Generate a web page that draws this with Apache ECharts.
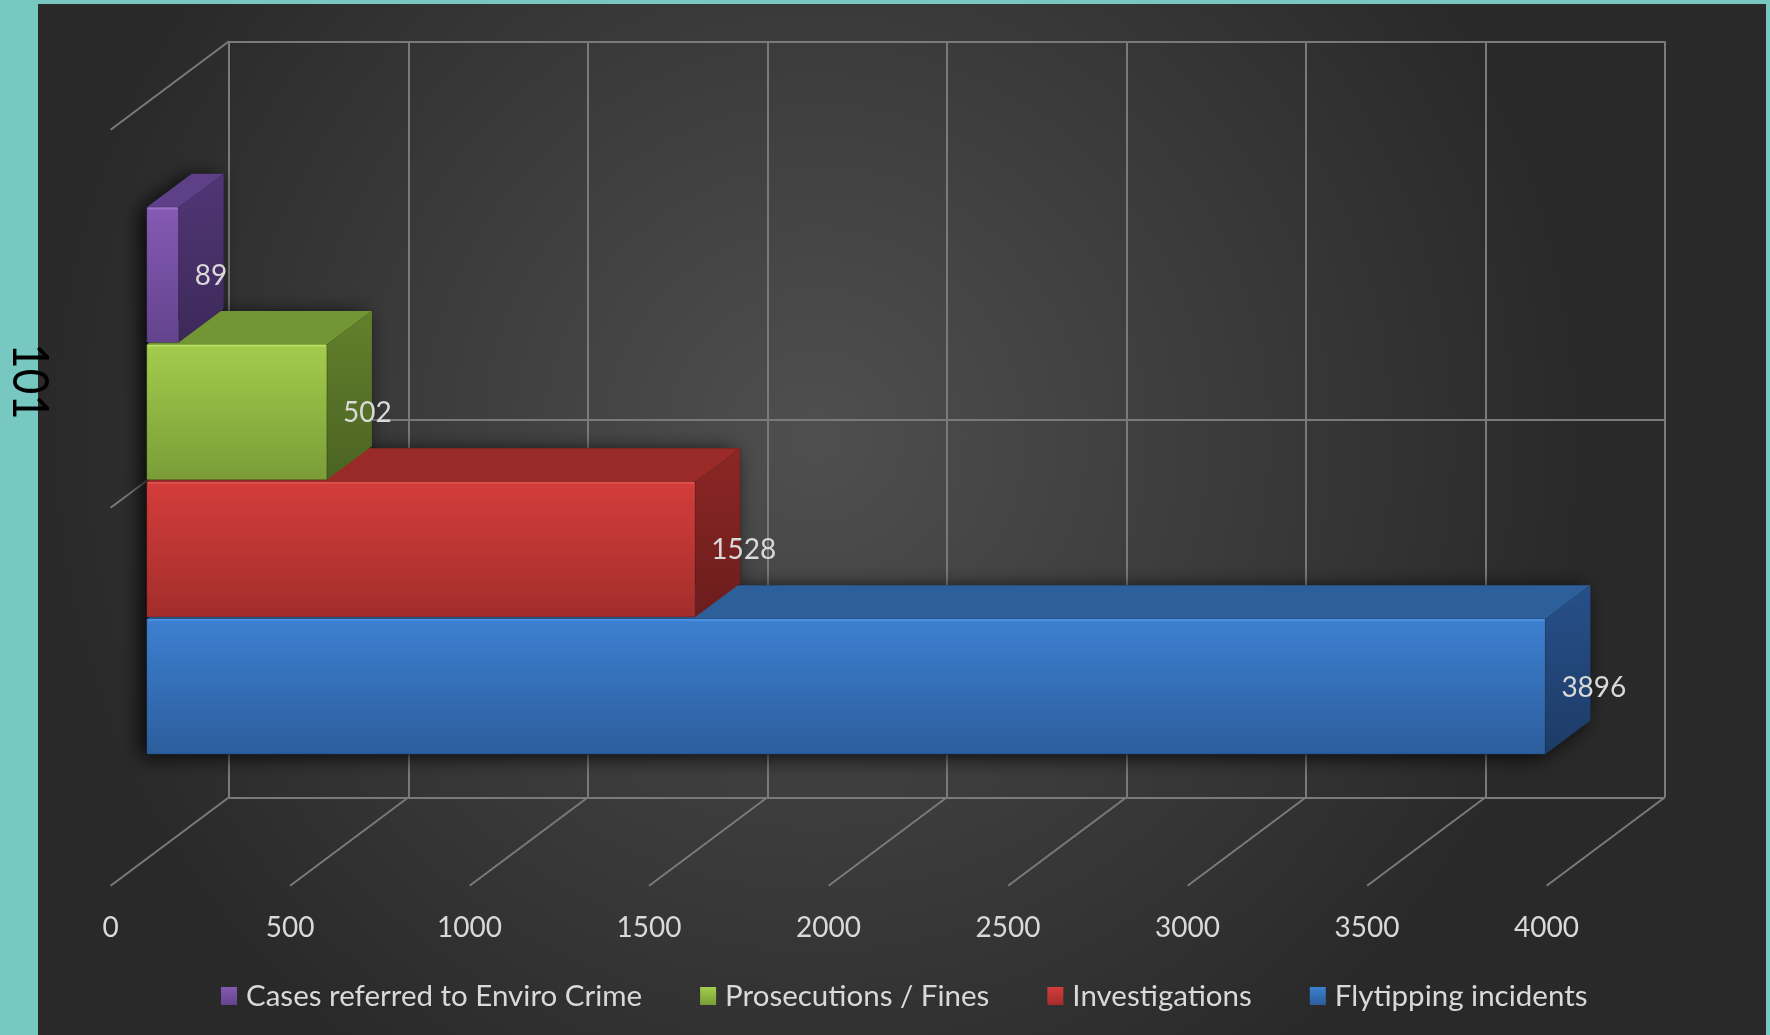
<!DOCTYPE html>
<html>
<head>
<meta charset="utf-8">
<script src="https://cdn.jsdelivr.net/npm/echarts@6/dist/echarts.min.js"></script>
<style>
html,body{margin:0;padding:0;background:#76c8c0;}
#c{width:1770px;height:1035px;}
</style>
</head>
<body>
<div id="c"></div>
<script>
// ---------------- data ----------------
const categories = ['101'];
const seriesNames = ['Cases referred to Enviro Crime', 'Prosecutions / Fines', 'Investigations', 'Flytipping incidents'];
const seriesValues = [89, 502, 1528, 3896];
const xTickLabels = [0, 500, 1000, 1500, 2000, 2500, 3000, 3500, 4000];
const wallLevels = [0, 1, 2];

// ---------------- styling ----------------
const FONT = 'Lato';
const TEXT = '#d9d9d9';
const GRID_LINE = '#7a7a7a';
const palette = [
  { front: ['#855ab3', '#63438d'], top: '#5e4088', side: ['#513676', '#3c2959'], edge: '#9a72c8' },
  { front: ['#a3cd4d', '#7a9c37'], top: '#739634', side: ['#62812c', '#4b6322'], edge: '#b8df60' },
  { front: ['#d43d3b', '#a22d2b'], top: '#9a2a28', side: ['#8c2725', '#6b1d1c'], edge: '#e0504c' },
  { front: ['#3d80d1', '#2c5d9c'], top: '#2d5f9b', side: ['#27508a', '#1d3b66'], edge: '#4b8fe0' }
];

// planes of the pseudo-3D box
const FRONT = { left: 110.6, top: 129.8, width: 1436, height: 756 };
const BACK = { left: 229, top: 41.3, width: 1436, height: 756 };
const DEPTH = [BACK.left - FRONT.left, BACK.top - FRONT.top];
const BAR_POS = 0.305, BAR_DEPTH = 0.38;
const BARS = {
  left: FRONT.left + DEPTH[0] * BAR_POS,
  top: FRONT.top + DEPTH[1] * BAR_POS,
  width: FRONT.width, height: FRONT.height
};
const BAR_FRAC = 0.1789, GAP_FRAC = 0.0026;

const xMin = xTickLabels[0];
const xMax = xTickLabels[xTickLabels.length - 1];
const xStep = xTickLabels[1] - xTickLabels[0];

function grad(c0, c1) {
  return new echarts.graphic.LinearGradient(0, 0, 0, 1, [
    { offset: 0, color: c0 }, { offset: 1, color: c1 }
  ]);
}

function barGeom(api, slot) {
  const v = api.value(0);
  const c = api.value(1);
  const p0 = api.coord([0, c]);
  const p1 = api.coord([v, c]);
  const H = api.size([0, 1])[1];
  const bh = H * BAR_FRAC, gap = H * GAP_FRAC;
  const total = 4 * bh + 3 * gap;
  const y0 = p0[1] - total / 2 + slot * (bh + gap);
  const y1 = y0 + bh;
  const dx = DEPTH[0] * BAR_DEPTH, dy = DEPTH[1] * BAR_DEPTH;
  return { x0: p0[0], x1: p1[0], y0, y1, dx, dy, v };
}

function makeBarRenderer(slot) {
  const col = palette[slot];
  return function (params, api) {
    const g = barGeom(api, slot);
    const { x0, x1, y0, y1, dx, dy } = g;
    return {
      type: 'group',
      children: [
        { type: 'polygon', shape: { points: [[x0, y0], [x1, y0], [x1 + dx, y0 + dy], [x0 + dx, y0 + dy]] },
          style: { fill: col.top } },
        { type: 'polygon', shape: { points: [[x1, y0], [x1 + dx, y0 + dy], [x1 + dx, y1 + dy], [x1, y1]] },
          style: { fill: grad(col.side[0], col.side[1]) } },
        { type: 'rect', shape: { x: x0, y: y0, width: x1 - x0, height: y1 - y0 },
          style: { fill: grad(col.front[0], col.front[1]), stroke: 'rgba(0,0,0,0.25)', lineWidth: 1 } },
        { type: 'line', shape: { x1: x0 + 1, y1: y0 + 1, x2: x1 - 1, y2: y0 + 1 },
          style: { stroke: col.edge, lineWidth: 2 } },
        { type: 'text', z2: 100,
          style: { text: String(g.v), x: x1 + 16, y: (y0 + y1) / 2 + 1, fill: TEXT,
                   font: 'normal 28px ' + FONT, align: 'left', verticalAlign: 'middle' } }
      ]
    };
  };
}

function shadowRenderer(params, api) {
  const slot = api.value(2);
  const { x0, x1, y0, y1, dx, dy } = barGeom(api, slot);
  return {
    type: 'polygon',
    shape: { points: [[x0, y0], [x0 + dx, y0 + dy], [x1 + dx, y0 + dy], [x1 + dx, y1 + dy], [x1, y1], [x0, y1]] },
    style: { fill: '#202020', shadowBlur: 20, shadowColor: 'rgba(0,0,0,0.85)', shadowOffsetX: -6, shadowOffsetY: 3 }
  };
}

function depthLineRenderer(params, api) {
  const p = api.coord([api.value(0), api.value(1)]);
  return {
    type: 'line',
    shape: { x1: p[0], y1: p[1], x2: p[0] + DEPTH[0], y2: p[1] + DEPTH[1] },
    style: { stroke: GRID_LINE, lineWidth: 2 }
  };
}

const depthLines = xTickLabels.map(v => [v, wallLevels[0]])
  .concat(wallLevels.slice(1).map(l => [xMin, l]));

const hiddenAxis = { axisLine: { show: false }, axisTick: { show: false }, axisLabel: { show: false }, splitLine: { show: false } };

const series = [
  { type: 'custom', name: '__depth', xAxisIndex: 1, yAxisIndex: 1, z: 1, silent: true,
    renderItem: depthLineRenderer, data: depthLines },
  { type: 'custom', name: '__shadow', xAxisIndex: 2, yAxisIndex: 2, z: 2, silent: true,
    renderItem: shadowRenderer, data: seriesValues.map((v, i) => [v, 0, i]) }
];
// draw bottom bar first so upper bars overlap lower top faces
for (let i = seriesNames.length - 1; i >= 0; i--) {
  series.push({
    type: 'custom', name: seriesNames[i], xAxisIndex: 2, yAxisIndex: 2, z: 3, silent: true,
    itemStyle: { color: grad(palette[i].front[0], palette[i].front[1]) },
    renderItem: makeBarRenderer(i),
    data: [[seriesValues[i], 0]]
  });
}

const chart = echarts.init(document.getElementById('c'), null, { renderer: 'canvas' });
chart.setOption({
  animation: false,
  backgroundColor: '#76c8c0',
  grid: [
    { left: BACK.left, top: BACK.top, width: BACK.width, height: BACK.height },
    { left: FRONT.left, top: FRONT.top, width: FRONT.width, height: FRONT.height },
    { left: BARS.left, top: BARS.top, width: BARS.width, height: BARS.height }
  ],
  xAxis: [
    Object.assign({}, hiddenAxis, { gridIndex: 0, type: 'value', min: xMin, max: xMax, interval: xStep,
      splitLine: { show: true, lineStyle: { color: GRID_LINE, width: 2 } } }),
    Object.assign({}, hiddenAxis, { gridIndex: 1, type: 'value', min: xMin, max: xMax, interval: xStep,
      axisLabel: { show: true, color: TEXT, fontSize: 28, fontFamily: FONT, margin: 28, lineHeight: 28,
                   showMinLabel: true, showMaxLabel: true, formatter: v => String(v) } }),
    Object.assign({}, hiddenAxis, { gridIndex: 2, type: 'value', min: xMin, max: xMax, interval: xStep })
  ],
  yAxis: [
    Object.assign({}, hiddenAxis, { gridIndex: 0, type: 'value', min: wallLevels[0], max: wallLevels[wallLevels.length - 1], interval: 1,
      splitLine: { show: true, lineStyle: { color: GRID_LINE, width: 2 } } }),
    Object.assign({}, hiddenAxis, { gridIndex: 1, type: 'value', min: wallLevels[0], max: wallLevels[wallLevels.length - 1], interval: 1 }),
    Object.assign({}, hiddenAxis, { gridIndex: 2, type: 'category', data: categories })
  ],
  legend: {
    data: seriesNames,
    left: 221, top: 981, padding: 0,
    itemGap: 58, itemWidth: 16, itemHeight: 18, icon: 'rect',
    textStyle: { color: TEXT, fontSize: 29.5, fontFamily: FONT, padding: [0, 0, 0, 4] },
    selectedMode: false
  },
  graphic: {
    elements: [
      { type: 'rect', z: -10, silent: true,
        shape: { x: 38, y: 4, width: 1728, height: 1031 },
        style: { fill: new echarts.graphic.RadialGradient(0.45, 0.42, 0.75, [
          { offset: 0, color: '#4f4f4f' }, { offset: 1, color: '#292929' }]) } },
      { type: 'text', z: 100, silent: true,
        x: 29, y: 381.5, rotation: -Math.PI / 2, scaleX: 0.86,
        style: { text: categories[0], fill: '#000', font: 'normal 51px ' + FONT, align: 'center', verticalAlign: 'middle' } }
    ]
  },
  series: series
});
</script>
</body>
</html>
